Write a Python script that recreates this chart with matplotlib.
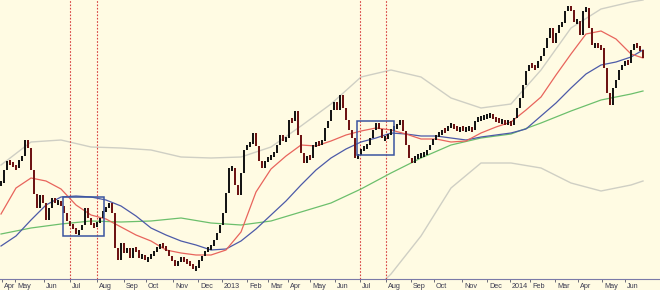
import numpy as np
import matplotlib.pyplot as plt
from matplotlib.patches import Rectangle
import matplotlib.transforms as mtransforms

# closing values, one bar per step (arbitrary price units)
close = [96, 109, 118, 116, 113, 111, 119, 123, 139, 131,
         109, 85, 71, 84, 76, 59, 71, 81, 76, 78,
         73, 66, 58, 54, 51, 45, 49, 54, 71, 61,
         54, 53, 56, 61, 68, 72, 76, 66, 31, 19,
         36, 26, 31, 21, 31, 29, 21, 24, 19, 21,
         24, 27, 32, 34, 33, 29, 23, 19, 13, 18,
         21, 19, 17, 15, 11, 11, 19, 23, 28, 31,
         33, 39, 46, 54, 66, 86, 111, 111, 94, 84,
         106, 129, 134, 135, 146, 133, 118, 111, 118, 121,
         123, 126, 134, 144, 138, 141, 159, 158, 168, 144,
         126, 116, 123, 121, 134, 136, 135, 138, 151, 158,
         169, 177, 169, 184, 171, 159, 149, 141, 121, 124,
         130, 132, 134, 141, 149, 156, 150, 141, 141, 144,
         150, 152, 154, 159, 148, 134, 121, 116, 123, 123,
         124, 125, 129, 134, 140, 144, 145, 149, 148, 153,
         154, 152, 149, 151, 150, 150, 151, 149, 158, 161,
         161, 163, 163, 164, 161, 159, 158, 158, 156, 158,
         154, 161, 171, 181, 194, 208, 214, 213, 211, 218,
         223, 231, 241, 251, 236, 246, 254, 256, 268, 273,
         269, 257, 258, 244, 268, 271, 251, 234, 234, 233,
         231, 211, 186, 174, 191, 199, 209, 214, 218, 216,
         229, 235, 233, 229, 221]

# moving averages, sampled every 5 bars
ma_idx = list(range(0, 211, 5)) + [214]
ma_short = [65, 91, 101, 98, 90, 74, 64, 60, 52, 44, 38, 29, 26, 24, 24,
            29, 47, 87, 110, 123, 134, 133, 138, 144, 148, 151, 149, 145,
            140, 140, 137, 138, 146, 152, 157, 169, 182, 204, 225, 245,
            248, 240, 225, 221]
ma_mid = [33, 43, 59, 74, 82, 83, 82, 79, 73, 63, 51, 44, 38, 34, 29,
          30, 38, 50, 64, 78, 94, 109, 121, 130, 137, 141, 146, 145,
          143, 143, 141, 139, 142, 144, 146, 150, 163, 176, 191, 205,
          214, 217, 222, 229]

# slower lines, sampled every 10 bars
line_idx = [0, 10, 20, 30, 40, 50, 60, 70, 80, 90, 100, 110,
            120, 130, 140, 150, 160, 170, 180, 190, 200, 210, 214]
ma_long = [45, 51, 55, 58, 57, 58, 61, 56, 54, 58, 67, 76,
           90, 106, 121, 134, 141, 145, 156, 168, 179, 185, 188]
band_up = [114, 137, 139, 132, 131, 129, 122, 121, 122, 132, 153, 175,
           202, 209, 202, 181, 171, 175, 209, 251, 270, 277, 279]
low_idx = [120, 130, 140, 150, 160, 170, 180, 190, 200, 210, 214]
band_low = [-24, 5, 43, 91, 116, 116, 111, 96, 88, 94, 98]

month_pos = [0.33, 4.67, 14.3, 23, 32, 41, 48.3, 57.3, 65.7, 73.7, 82, 89, 95.7,
             103, 111.3, 119.7, 128.3, 136.7, 144.3, 153.7, 162, 169.7, 176.3,
             184.7, 192.3, 200.3, 208]
month_lbl = ['Apr', 'May', 'Jun', 'Jul', 'Aug', 'Sep', 'Oct', 'Nov', 'Dec', '2013',
             'Feb', 'Mar', 'Apr', 'May', 'Jun', 'Jul', 'Aug', 'Sep', 'Oct', 'Nov',
             'Dec', '2014', 'Feb', 'Mar', 'Apr', 'May', 'Jun']
marks = [23, 32, 119.7, 128.3]   # dotted verticals
boxes = [(20.8, 43, 13.5, 39), (118.8, 124.3, 12.3, 34)]

bg = '#fffbe3'
fig = plt.figure(figsize=(6.6, 2.9), dpi=100, facecolor=bg)
ax = fig.add_axes([0, 11/290, 1, 279/290], facecolor=bg)

c = np.array(close, dtype=float)
o = np.r_[c[0], c[:-1]]
lo = np.minimum(o, c)
hi = np.maximum(o, c)
# give flat bars a visible body
mid = (lo + hi) / 2
h = np.maximum(hi - lo, 5)
x = np.arange(len(c))
cols = np.where(c >= o, '#151515', '#6e1414')

ax.plot(line_idx, band_up, color='#cfcfc4', lw=1.0, zorder=1)
ax.plot(low_idx, band_low, color='#cfcfc4', lw=1.0, zorder=1)
ax.plot(line_idx, ma_long, color='#6cbf6c', lw=0.9, zorder=2)
ax.plot(ma_idx, ma_mid, color='#4c5aa8', lw=0.9, zorder=2)
ax.plot(ma_idx, ma_short, color='#e8645c', lw=0.9, zorder=2)

for m in marks:
    ax.axvline(m, color='#d84040', lw=0.8, ls=(0, (1.5, 1.5)), zorder=1)

ax.bar(x, h, bottom=mid - h / 2, width=0.65, color=cols, zorder=3)

for bx, by, bw, bh in boxes:
    ax.add_patch(Rectangle((bx, by), bw, bh, fill=False, ec='#3a55a0', lw=1.1, zorder=4))

ax.set_xlim(-1/3, 659/3)
ax.set_ylim(0, 279)
for s in ['top', 'left', 'right']:
    ax.spines[s].set_visible(False)
ax.spines['bottom'].set_color('#7a7aa8')
ax.spines['bottom'].set_linewidth(0.8)
ax.set_yticks([])
ax.set_xticks(month_pos)
ax.set_xticklabels(month_lbl, fontsize=5.2, color='#3a3a50', family='Liberation Sans')
ax.tick_params(axis='x', length=2.5, width=0.6, color='#555566', pad=0.3)
off = mtransforms.ScaledTranslation(2/100, 0, fig.dpi_scale_trans)
for t in ax.get_xticklabels():
    t.set_ha('left')
    t.set_transform(t.get_transform() + off)

plt.savefig('out.png', dpi=100, facecolor=bg)
